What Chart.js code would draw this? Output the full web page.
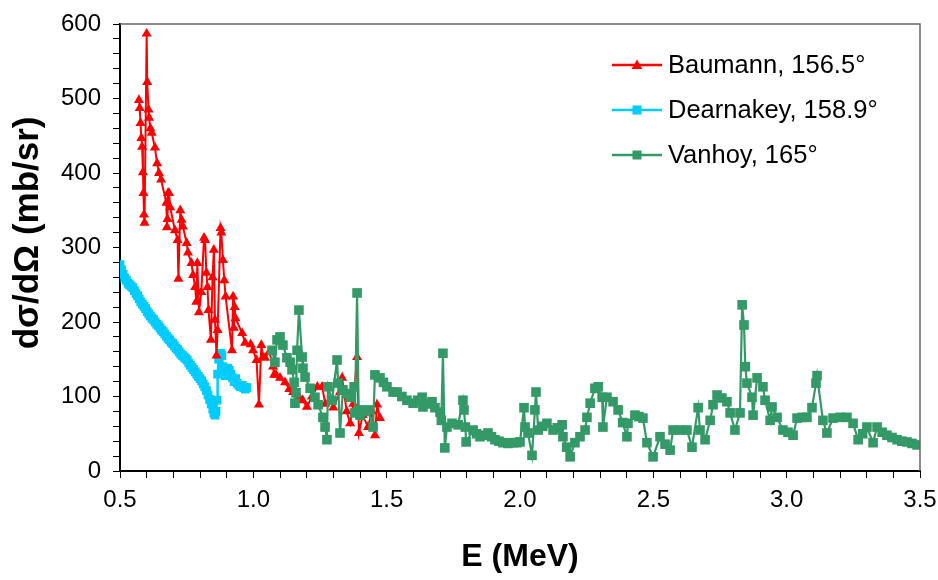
<!DOCTYPE html>
<html><head><meta charset="utf-8">
<script src="https://cdn.jsdelivr.net/npm/chart.js@4.4.1/dist/chart.umd.min.js"></script>
<style>
html,body{margin:0;padding:0;background:#fff;}
#wrap{position:relative;width:938px;height:580px;}
#legend{position:absolute;left:612px;top:42px;font-family:'Liberation Sans',Arial,sans-serif;font-size:25.5px;color:#000;}
.item{display:flex;align-items:center;height:45px;white-space:nowrap;}
.item svg{margin-right:6px;flex:none;}
</style></head><body>
<div id="wrap"><canvas id="c" width="938" height="580"></canvas><div id="legend"></div></div>
<script>
// ---- data ----
const seriesNames = ['Baumann, 156.5°', 'Dearnakey, 158.9°', 'Vanhoy, 165°'];

const baumannE = [
 0.571,0.574,0.577,0.580,0.583,0.586,0.588,0.590,0.592,0.600,
 0.602,0.607,0.609,0.614,0.619,0.631,0.639,0.646,0.654,0.674,
 0.676,0.678,0.680,0.684,0.688,0.706,0.716,0.719,0.726,0.731,
 0.736,0.750,0.755,0.768,0.774,0.782,0.786,0.790,0.796,0.805,
 0.815,0.819,0.824,0.828,0.832,0.841,0.847,0.852,0.856,0.862,
 0.866,0.877,0.880,0.886,0.891,0.896,0.920,0.924,0.927,0.930,
 0.933,0.958,0.969,0.990,0.999,1.012,1.021,1.030,1.036,1.044,
 1.060,1.074,1.078,1.085,1.100,1.119,1.135,1.149,1.170,1.185,
 1.201,1.220,1.240,1.258,1.270,1.288,1.300,1.325,1.333,1.350,
 1.363,1.375,1.389,1.396,1.410,1.430,1.445,1.456,1.464,1.475];
const baumannSigma = [
 498,487,467,447,435,401,373,344,333,587,
 522,485,474,460,454,434,413,400,391,360,
 327,338,373,373,354,323,310,258,350,337,
 328,306,293,279,263,247,227,279,213,240,
 313,310,266,247,216,176,260,297,203,155,
 189,326,320,283,256,234,162,234,192,220,
 205,185,172,170,162,149,89,169,153,152,
 160,140,129,129,125,119,110,106,100,95,
 86,100,113,113,90,95,85,106,125,80,
 64,90,153,51,75,59,80,48,89,71];

const dearnakeyE = [
 0.500,0.506,0.512,0.518,0.524,0.530,0.536,0.542,0.548,0.554,
 0.560,0.566,0.572,0.578,0.584,0.590,0.596,0.602,0.608,0.614,
 0.620,0.626,0.632,0.638,0.644,0.650,0.656,0.662,0.668,0.674,
 0.680,0.686,0.692,0.698,0.704,0.710,0.716,0.722,0.728,0.734,
 0.740,0.746,0.752,0.758,0.764,0.770,0.776,0.782,0.788,0.794,
 0.800,0.806,0.812,0.818,0.824,0.830,0.836,0.842,0.848,0.852,
 0.856,0.860,0.864,0.866,0.870,0.874,0.878,0.882,0.886,0.890,
 0.894,0.898,0.904,0.910,0.916,0.922,0.928,0.934,0.940,0.946,
 0.952,0.958,0.964,0.970,0.975];
const dearnakeySigma = [
 277,270,264,259,256,252,250,248,246,242,
 238,235,231,227,224,221,218,214,211,208,
 205,203,200,197,195,192,189,187,184,181,
 178,176,173,171,168,165,163,160,157,155,
 153,151,149,145,142,139,136,133,130,127,
 124,121,117,113,108,102,96,90,83,78,
 75,80,95,130,150,157,158,155,140,132,
 128,136,138,135,130,125,120,124,118,115,
 113,115,112,110,112];

const vanhoyE = [
 1.070,1.081,1.089,1.100,1.111,1.126,1.138,1.145,1.153,1.156,
 1.160,1.164,1.171,1.183,1.186,1.194,1.213,1.231,1.243,1.261,
 1.269,1.276,1.280,1.295,1.314,1.318,1.325,1.336,1.350,1.363,
 1.378,1.381,1.389,1.395,1.400,1.415,1.430,1.449,1.456,1.475,
 1.488,1.501,1.524,1.539,1.557,1.576,1.599,1.616,1.633,1.636,
 1.653,1.670,1.681,1.700,1.705,1.711,1.718,1.726,1.745,1.768,
 1.786,1.790,1.795,1.798,1.824,1.837,1.850,1.865,1.880,1.893,
 1.906,1.921,1.936,1.955,1.974,1.987,2.000,2.015,2.019,2.030,
 2.045,2.056,2.060,2.068,2.085,2.101,2.124,2.140,2.158,2.161,
 2.175,2.188,2.206,2.225,2.244,2.251,2.263,2.281,2.293,2.308,
 2.311,2.326,2.349,2.368,2.385,2.401,2.405,2.431,2.446,2.461,
 2.476,2.499,2.525,2.544,2.563,2.574,2.600,2.626,2.645,2.668,
 2.675,2.694,2.713,2.724,2.739,2.757,2.776,2.788,2.806,2.825,
 2.833,2.840,2.845,2.851,2.870,2.874,2.889,2.911,2.919,2.938,
 2.945,2.964,2.986,3.005,3.024,3.039,3.058,3.076,3.095,3.110,
 3.114,3.136,3.151,3.174,3.200,3.226,3.249,3.268,3.285,3.301,
 3.324,3.339,3.358,3.376,3.395,3.414,3.432,3.451,3.470,3.489];
const vanhoySigma = [
 162,146,176,180,169,152,146,136,119,91,
 105,162,216,153,138,126,111,99,89,72,
 59,42,113,95,149,118,51,109,104,99,
 113,78,239,82,75,80,82,59,129,125,
 119,113,106,106,100,95,91,95,99,86,
 90,93,85,79,68,158,31,59,64,62,
 95,82,59,39,55,50,46,48,51,46,
 42,40,38,37,38,38,39,85,59,51,
 21,82,106,55,60,64,55,58,62,46,
 32,19,38,46,55,72,91,111,113,99,
 59,99,93,82,65,46,64,75,73,71,
 38,19,46,36,28,55,55,55,32,85,
 55,42,68,89,102,98,93,78,55,78,
 223,196,140,118,99,75,125,113,95,68,
 86,72,55,52,48,71,72,72,85,118,
 128,68,51,71,72,72,64,42,50,59,
 38,59,52,48,45,42,40,39,37,35];

const xTickValuesLabelled = [0.5, 1.0, 1.5, 2.0, 2.5, 3.0, 3.5];
const yTickValuesLabelled = [0, 100, 200, 300, 400, 500, 600];

// ---- chart ----
const FONT = "'Liberation Sans', Arial, sans-serif";
const colors = ['#FF0000', '#00CCFF', '#339966'];
const styles = ['triangle', 'rect', 'rect'];
const radii = [5.8, 6.2, 6.8];
const widths = [2, 2.5, 2.2];
const orders = [1, 2, 0];
const xs = [baumannE, dearnakeyE, vanhoyE];
const ys = [baumannSigma, dearnakeySigma, vanhoySigma];

const datasets = seriesNames.map((name, k) => ({
  label: name,
  data: xs[k].map((x, i) => ({x: x, y: ys[k][i]})),
  showLine: true,
  borderColor: colors[k],
  backgroundColor: colors[k],
  pointBackgroundColor: colors[k],
  pointBorderColor: colors[k],
  pointBorderWidth: 0,
  pointStyle: styles[k],
  pointRadius: radii[k],
  borderWidth: widths[k],
  tension: 0,
  order: orders[k]
}));

const framePlugin = {
  id: 'frame',
  afterDraw(chart) {
    const {ctx, chartArea: a} = chart;
    ctx.save();
    ctx.strokeStyle = '#666';
    ctx.lineWidth = 1.5;
    ctx.beginPath();
    ctx.moveTo(a.left, a.top);
    ctx.lineTo(a.right, a.top);
    ctx.lineTo(a.right, a.bottom);
    ctx.stroke();
    ctx.restore();
  }
};

new Chart(document.getElementById('c'), {
  type: 'scatter',
  data: {datasets},
  options: {
    responsive: false,
    animation: false,
    devicePixelRatio: 1,
    layout: {padding: {left: 0, top: 24, right: 18, bottom: 0}},
    plugins: {legend: {display: false}, tooltip: {enabled: false}},
    scales: {
      x: {
        type: 'linear', min: 0.5, max: 3.5,
        ticks: {
          stepSize: 0.1, autoSkip: false, maxRotation: 0, padding: 8,
          color: '#000', font: {family: FONT, size: 24},
          callback: (v) => {
            const r = Math.round(v * 10) / 10;
            return xTickValuesLabelled.some(t => Math.abs(t - r) < 1e-6) ? r.toFixed(1) : '';
          }
        },
        grid: {drawOnChartArea: false, drawTicks: true, tickLength: 7, color: '#000', tickWidth: 1},
        border: {display: true, color: '#000', width: 2},
        title: {display: true, text: 'E (MeV)', color: '#000',
          font: {family: FONT, size: 32, weight: 'bold'},
          padding: {top: 0, bottom: 4}},
        afterFit: (s) => { s.height = 109; s.paddingRight = 0; s.paddingLeft = 0; }
      },
      y: {
        type: 'linear', min: 0, max: 600,
        ticks: {
          stepSize: 20, autoSkip: false, padding: 12,
          color: '#000', font: {family: FONT, size: 24},
          callback: (v) => yTickValuesLabelled.includes(Math.round(v)) ? String(Math.round(v)) : ''
        },
        grid: {drawOnChartArea: false, drawTicks: true, tickLength: 7, color: '#000', tickWidth: 1},
        border: {display: true, color: '#000', width: 2},
        title: {display: true, text: '   dσ/dΩ (mb/sr)', color: '#000',
          font: {family: FONT, size: 35, weight: 'bold'},
          padding: {top: 7, bottom: 0}},
        afterFit: (s) => { s.width = 120; s.paddingTop = 0; s.paddingBottom = 0; }
      }
    }
  },
  plugins: [framePlugin]
});

// ---- legend (line + marker + label) ----
const legend = document.getElementById('legend');
seriesNames.forEach((name, k) => {
  const item = document.createElement('div');
  item.className = 'item';
  const c = colors[k];
  const marker = styles[k] === 'triangle'
    ? `<polygon points="25,4.5 30.5,14 19.5,14" fill="${c}"/>`
    : `<rect x="20.5" y="5.5" width="9" height="9" fill="${c}"/>`;
  item.innerHTML = `<svg width="50" height="20" viewBox="0 0 50 20"><line x1="0" y1="10" x2="50" y2="10" stroke="${c}" stroke-width="2.5"/>${marker}</svg><span>${name}</span>`;
  legend.appendChild(item);
});
</script>
</body></html>
